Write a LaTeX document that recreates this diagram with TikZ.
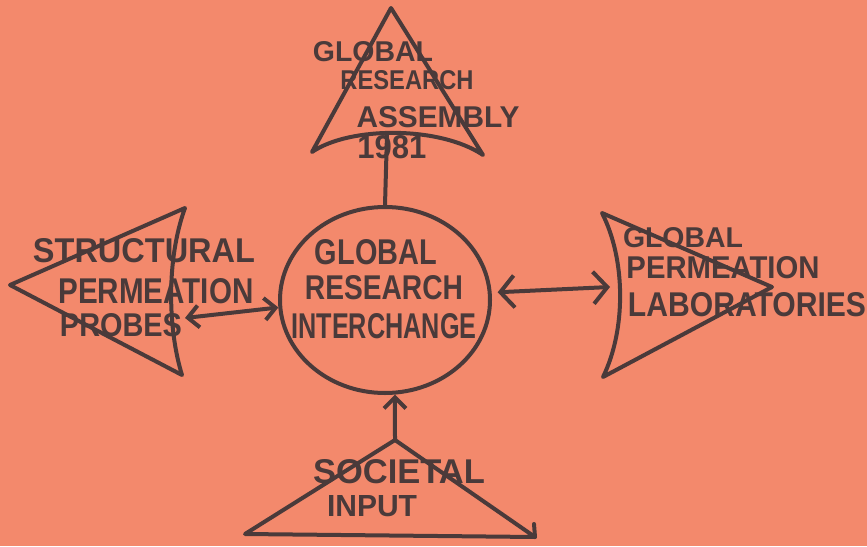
\documentclass[tikz,border=0pt]{standalone}
\usepackage{graphicx}
\usepackage{fontspec}
\setmainfont{Liberation Sans}
\usetikzlibrary{shapes.geometric,arrows.meta}
\definecolor{bgc}{RGB}{243,137,108}
\definecolor{inkc}{RGB}{74,58,58}
\newcommand\hw[3]{\resizebox{#1pt}{#2pt}{\bfseries #3}}
\tikzset{
  ink/.style={draw=inkc,line width=4pt,line cap=round,line join=round},
  lbl/.style={inner sep=0pt,outer sep=0pt,text=inkc},
  bighead/.style={arrows={Straight Barb[length=14pt,width=32pt]-Straight Barb[length=14pt,width=32pt]}},
  smallhead/.style={arrows={Straight Barb[length=11pt,width=22pt]-Straight Barb[length=11pt,width=22pt]}},
  uphead/.style={arrows={-Straight Barb[length=11pt,width=22pt]}}
}
\begin{document}
\begin{tikzpicture}[x=1pt,y=-1pt]
\useasboundingbox (0,0) rectangle (867,546);
\fill[bgc] (0,0) rectangle (867,546);

% centre hub
\node[ink,ellipse,minimum width=210pt,minimum height=186pt,inner sep=0pt] (hub) at (385,300) {};
\node[lbl] (c1) at (376,252) {\hw{122}{25}{GLOBAL}};
\node[lbl] (c2) at (384,288) {\hw{158}{24}{RESEARCH}};
\node[lbl] (c3) at (384,326) {\hw{185}{25}{INTERCHANGE}};

% top triangle
\coordinate (ttop) at (391,8);
\coordinate (tright) at (483,155);
\coordinate (tleft) at (312,152);
\coordinate (tbase) at (387,134);
\draw[ink] (ttop) -- (tright) .. controls (440,126) and (350,126) .. (tleft) -- cycle;
\node[lbl] (t1) at (373,52) {\hw{120}{20}{GLOBAL}};
\node[lbl] (t2) at (407,80) {\hw{133}{19}{RESEARCH}};
\node[lbl] (t3) at (438,117) {\hw{163}{21}{ASSEMBLY}};
\node[lbl] (t4) at (392,147) {\hw{69}{23}{1981}};
\draw[ink] (hub.north) -- (tbase);

% left triangle
\coordinate (lapex) at (10,285);
\coordinate (ltop) at (185,208);
\coordinate (lbot) at (182,375);
\coordinate (larr) at (185,318);
\draw[ink] (lapex) -- (ltop) .. controls (166,260) and (168,330) .. (lbot) -- cycle;
\node[lbl] (l1) at (144,251) {\hw{222}{24}{STRUCTURAL}};
\node[lbl] (l2) at (156,291) {\hw{195}{25}{PERMEATION}};
\node[lbl] (l3) at (121,325) {\hw{122}{23}{PROBES}};
\draw[ink,smallhead] (larr) -- (hub.184);

% right shape
\coordinate (rtop) at (602,213);
\coordinate (rapex) at (772,287);
\coordinate (rbot) at (603,377);
\coordinate (rarr) at (610,287);
\draw[ink] (rtop) -- (rapex) -- (rbot) .. controls (626,330) and (626,260) .. (rtop) -- cycle;
\node[lbl] (r1) at (683,238) {\hw{120}{20}{GLOBAL}};
\node[lbl] (r2) at (723,268) {\hw{193}{22}{PERMEATION}};
\node[lbl] (r3) at (747,305) {\hw{238}{24}{LABORATORIES}};
\draw[ink,bighead,shorten <=6pt] (hub.4) -- (rarr);

% bottom triangle
\coordinate (bapex) at (395,440);
\coordinate (bright) at (535,537);
\coordinate (bleft) at (245,534);
\coordinate (btick) at (534,524);
\draw[ink] (bapex) -- (bright) -- (bleft) -- cycle;
\draw[ink] (bright) -- (btick);
\node[lbl] (b1) at (399,472) {\hw{172}{24}{SOCIETAL}};
\node[lbl] (b2) at (372,506) {\hw{90}{21}{INPUT}};
\draw[ink,uphead] (bapex) -- (hub.-84);
\end{tikzpicture}
\end{document}
